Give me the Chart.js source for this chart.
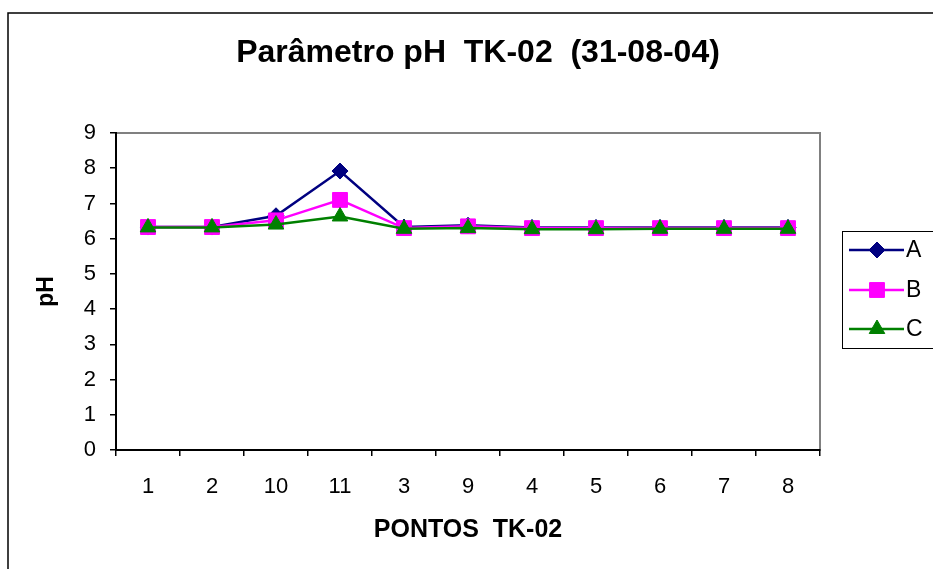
<!DOCTYPE html>
<html>
<head>
<meta charset="utf-8">
<title>Parâmetro pH TK-02</title>
<script src="https://cdn.jsdelivr.net/npm/chart.js@4.4.1/dist/chart.umd.min.js"></script>
<style>
  html, body { margin: 0; padding: 0; background: #fff; }
  #wrap { width: 933px; height: 569px; position: relative; }
</style>
</head>
<body>
<div id="wrap"><canvas id="c" width="933" height="569"></canvas></div>
<script>
// Sampling points along tank TK-02, in survey order
const pontos = ['1', '2', '10', '11', '3', '9', '4', '5', '6', '7', '8'];

// pH readings per series
const serieA = [6.33, 6.33, 6.65, 7.92, 6.33, 6.38, 6.32, 6.32, 6.32, 6.32, 6.32];
const serieB = [6.33, 6.33, 6.52, 7.10, 6.30, 6.35, 6.30, 6.30, 6.30, 6.30, 6.30];
const serieC = [6.32, 6.32, 6.40, 6.63, 6.28, 6.30, 6.27, 6.27, 6.28, 6.28, 6.28];

const seriesNames = ['A', 'B', 'C'];
const yTicks = [0, 1, 2, 3, 4, 5, 6, 7, 8, 9];

const chartTitle = 'Parâmetro pH  TK-02  (31-08-04)';
const xTitle = 'PONTOS  TK-02';
const yTitle = 'pH';

const FONT = "'Liberation Sans', Arial, sans-serif";

// Outer frame, plot-area border and title
const framePlugin = {
  id: 'frame',
  beforeDraw(chart) {
    const ctx = chart.ctx;
    const a = chart.chartArea;
    ctx.save();
    ctx.fillStyle = '#fff';
    ctx.fillRect(0, 0, chart.width, chart.height);
    // outer frame
    ctx.strokeStyle = '#000';
    ctx.lineWidth = 1.5;
    ctx.beginPath();
    ctx.moveTo(8, chart.height + 2);
    ctx.lineTo(8, 13);
    ctx.lineTo(chart.width + 2, 13);
    ctx.stroke();
    // plot-area border
    ctx.strokeStyle = '#808080';
    ctx.lineWidth = 2;
    ctx.strokeRect(a.left, a.top, a.right - a.left, a.bottom - a.top);
    // title
    ctx.fillStyle = '#000';
    ctx.font = 'bold 32px ' + FONT;
    ctx.textAlign = 'center';
    ctx.textBaseline = 'middle';
    ctx.fillText(chartTitle, 478, 53);
    ctx.restore();
  }
};

// Legend box with line + marker samples
const legendPlugin = {
  id: 'boxLegend',
  afterDraw(chart) {
    const ctx = chart.ctx;
    ctx.save();
    ctx.strokeStyle = '#000';
    ctx.lineWidth = 1;
    ctx.strokeRect(842.5, 231.5, 100, 117);
    const rows = [250, 290, 329];
    chart.data.datasets.forEach((ds, i) => {
      const y = rows[i];
      ctx.strokeStyle = ds.borderColor;
      ctx.lineWidth = ds.borderWidth;
      ctx.beginPath();
      ctx.moveTo(849, y);
      ctx.lineTo(904, y);
      ctx.stroke();
      ctx.fillStyle = ds.pointBackgroundColor;
      ctx.strokeStyle = ds.pointBorderColor;
      ctx.lineWidth = 1;
      Chart.helpers.drawPoint(ctx, {
        pointStyle: ds.pointStyle,
        radius: ds.pointRadius,
        rotation: 0,
        borderWidth: 1
      }, 877, y);
      ctx.fillStyle = '#000';
      ctx.font = '23px ' + FONT;
      ctx.textAlign = 'left';
      ctx.textBaseline = 'middle';
      ctx.fillText(ds.label, 906, y + 1);
    });
    ctx.restore();
  }
};

const mkSeries = (label, data, color, style, radius, order) => ({
  label,
  data,
  borderColor: color,
  backgroundColor: color,
  pointBackgroundColor: color,
  pointBorderColor: color,
  borderWidth: 2.5,
  pointStyle: style,
  pointRadius: radius,
  pointHoverRadius: radius,
  pointBorderWidth: 1,
  tension: 0,
  order
});

new Chart(document.getElementById('c'), {
  type: 'line',
  data: {
    labels: pontos,
    datasets: [
      mkSeries(seriesNames[0], serieA, '#000080', 'rectRot', 8, 2),
      mkSeries(seriesNames[1], serieB, '#FF00FF', 'rect', 10.5, 1),
      mkSeries(seriesNames[2], serieC, '#008000', 'triangle', 9, 0)
    ]
  },
  options: {
    responsive: false,
    animation: false,
    events: [],
    layout: { padding: { left: 0, right: 113, top: 133, bottom: 0 } },
    plugins: {
      legend: { display: false },
      title: { display: false },
      tooltip: { enabled: false }
    },
    scales: {
      x: {
        type: 'category',
        offset: true,
        grid: {
          offset: true,
          drawOnChartArea: false,
          color: '#000',
          tickLength: 6,
          lineWidth: 1.5
        },
        border: { color: '#000', width: 2 },
        ticks: {
          color: '#000',
          font: { family: FONT, size: 22 },
          padding: 18,
          maxRotation: 0,
          autoSkip: false
        },
        title: {
          display: true,
          text: xTitle,
          color: '#000',
          font: { family: FONT, size: 25, weight: 'bold' },
          padding: { top: 0, bottom: 24 }
        },
        afterFit(scale) { scale.height = 119; }
      },
      y: {
        min: 0,
        max: 9,
        afterBuildTicks(scale) { scale.ticks = yTicks.map(v => ({ value: v })); },
        grid: {
          drawOnChartArea: false,
          color: '#000',
          tickLength: 6,
          lineWidth: 1.5
        },
        border: { color: '#000', width: 2 },
        ticks: {
          color: '#000',
          font: { family: FONT, size: 22 },
          padding: 14
        },
        title: {
          display: true,
          text: yTitle,
          color: '#000',
          font: { family: FONT, size: 23, weight: 'bold' },
          padding: { top: 33, bottom: 0 }
        },
        afterFit(scale) { scale.width = 116; }
      }
    }
  },
  plugins: [framePlugin, legendPlugin]
});
</script>
</body>
</html>
